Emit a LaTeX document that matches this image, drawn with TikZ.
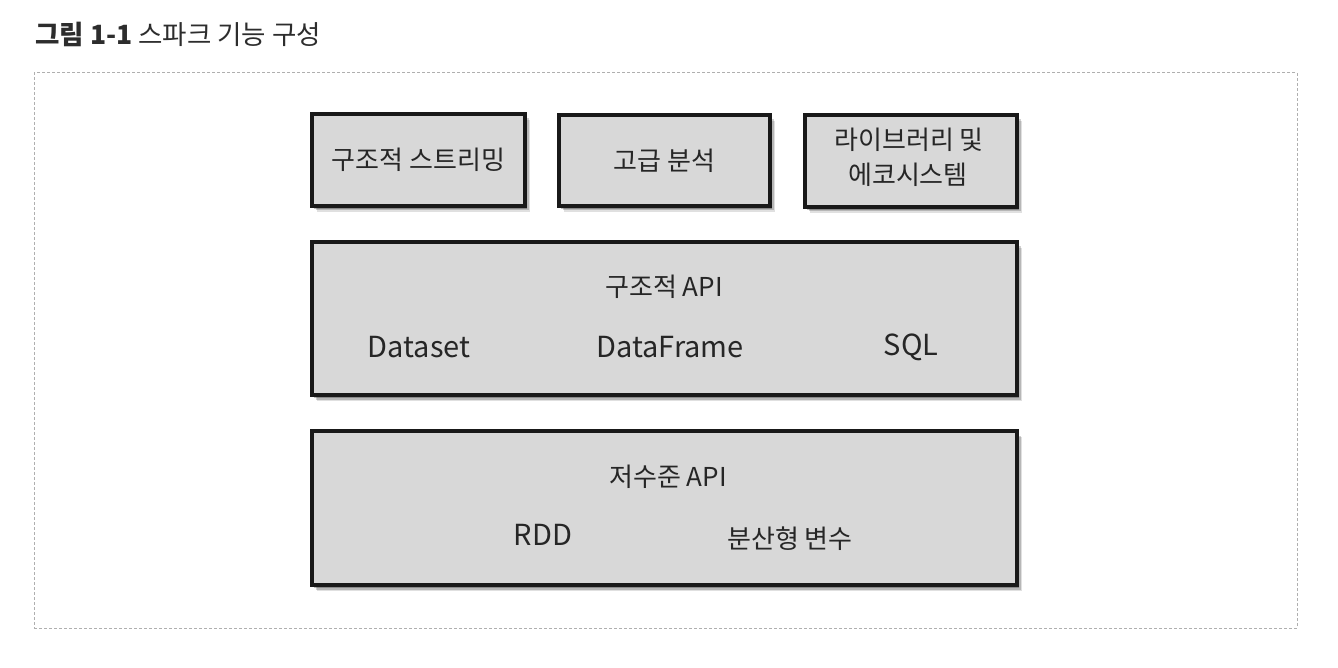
\documentclass[tikz,border=0pt]{standalone}
\usepackage{fontspec}
\newfontfamily\kfont{Noto Sans CJK KR}
\usetikzlibrary{shadows}
\definecolor{boxfill}{RGB}{216,216,216}
\definecolor{titlecol}{RGB}{45,45,45}
\definecolor{framecol}{RGB}{175,175,175}
\tikzset{
  panel/.style={draw=black!90, line width=4pt, fill=boxfill, inner sep=0pt,
    drop shadow={shadow xshift=5pt, shadow yshift=-6pt, fill=black, opacity=0.12},
    drop shadow={shadow xshift=3.5pt, shadow yshift=-4.5pt, fill=black, opacity=0.18},
    drop shadow={shadow xshift=2pt, shadow yshift=-3pt, fill=black, opacity=0.25},
    font=\kfont\fontsize{26}{40}\selectfont, text=black!85, align=center},
  lbl/.style={font=\kfont\fontsize{26}{28}\selectfont, text=black!85, inner sep=0pt},
  lat/.style={font=\kfont\fontsize{29}{30}\selectfont, text=black!85, inner sep=0pt},
}
\begin{document}
\begin{tikzpicture}[x=1pt,y=-1pt]
\useasboundingbox[fill=white] (0,0) rectangle (1338,668);
% title
\node[anchor=west, inner sep=0pt, text=titlecol, font=\kfont\fontsize{26.5}{28}\selectfont] (title) at (35,34) {{\bfseries 그림 1-1} 스파크 기능 구성};
% dashed frame
\node[draw=framecol, line width=1pt, dash pattern=on 3pt off 2pt, minimum width=1263pt, minimum height=555pt, inner sep=0pt] (frame) at (665.5,350.5) {};
% top boxes
\node[panel, minimum width=213pt, minimum height=92pt] (stream) at (418.5,160) {구조적 스트리밍};
\node[panel, minimum width=211pt, minimum height=91pt] (adv) at (664.5,160.5) {고급 분석};
\node[panel, minimum width=212pt, minimum height=92pt] (lib) at (911,161) {};
\node[lbl] (lib1) at (909,140) {라이브러리 및};
\node[lbl] (lib2) at (908,175) {에코시스템};
% structured API
\node[panel, minimum width=705pt, minimum height=153pt] (sapi) at (664.5,318.5) {};
\node[lbl] (sapit) at (664,287) {구조적 API};
\node[lat] (ds) at (419,347) {Dataset};
\node[lat] (df) at (670,347) {DataFrame};
\node[lat] (sql) at (911,347) {SQL};
% low-level API
\node[panel, minimum width=705pt, minimum height=154pt] (lapi) at (664.5,508) {};
\node[lbl] (lapit) at (668,477) {저수준 API};
\node[lat] (rdd) at (543,535) {RDD};
\node[lbl] (dv) at (790,539) {분산형 변수};
\end{tikzpicture}
\end{document}
